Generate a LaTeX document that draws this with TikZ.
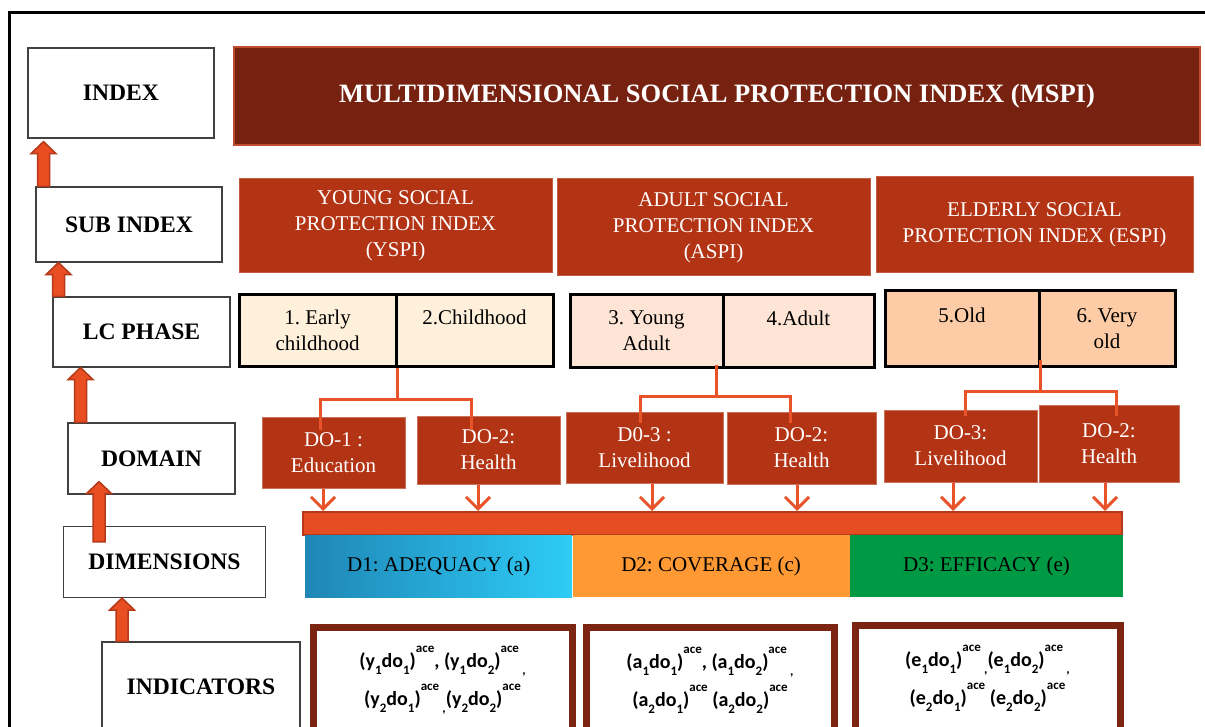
\documentclass[tikz,border=0pt]{standalone}
\usepackage{fontspec}
\setmainfont{Liberation Serif}
\newfontfamily\calibfont{Carlito}
\usetikzlibrary{calc,arrows.meta}
\frenchspacing

\definecolor{mspired}{HTML}{772211}
\definecolor{mspiedge}{HTML}{C04A30}
\definecolor{subred}{HTML}{B33415}
\definecolor{linkred}{HTML}{E8532A}
\definecolor{arrowred}{HTML}{E84E22}
\definecolor{arrowdark}{HTML}{B5391A}
\definecolor{barred}{HTML}{E64D22}
\definecolor{bardark}{HTML}{B53A1C}
\definecolor{creamy}{HTML}{FEF0DA}
\definecolor{peachy}{HTML}{FDE4D5}
\definecolor{tanny}{HTML}{FDCCA6}
\definecolor{dimblueA}{HTML}{1F86B6}
\definecolor{dimblueB}{HTML}{2ECCF6}
\definecolor{dimorange}{HTML}{FF9933}
\definecolor{dimgreen}{HTML}{009944}
\definecolor{indbrown}{HTML}{7B2412}

\newcommand{\indsub}[1]{\raisebox{-7pt}{\fontsize{13}{13}\selectfont #1}}
\newcommand{\indsup}{\raisebox{15pt}{\fontsize{13}{13}\selectfont ace}}

\newcommand{\liftarrow}[3]{%
    \path[blockarrow] let \p1=(#2), \p2=(#3) in
        ({#1-6},\y1) -- ({#1-6},{\y2-12}) -- ({#1-12.5},{\y2-12}) -- (#1,\y2)
        -- ({#1+12.5},{\y2-12}) -- ({#1+6},{\y2-12}) -- ({#1+6},\y1) -- cycle;
}

\begin{document}
\begin{tikzpicture}[x=1pt, y=-1pt,
    levelbox/.style={draw=black!75, line width=1.2pt, fill=white, inner sep=0pt, font=\fontsize{23.6}{26}\selectfont\bfseries},
    subbox/.style={fill=subred, draw=subred!80!white, line width=1pt, inner sep=0pt, text=white, align=center, font=\fontsize{21}{26}\selectfont},
    phasebox/.style={draw=black, line width=3pt, inner sep=0pt, align=center, font=\fontsize{21}{26}\selectfont},
    domainbox/.style={fill=subred, draw=subred!70!white, line width=1pt, inner sep=0pt, text=white, align=center, font=\fontsize{21}{26}\selectfont},
    dimbox/.style={inner sep=0pt, minimum height=62, anchor=west, font=\fontsize{21}{26}\selectfont},
    indbox/.style={draw=indbrown, line width=7pt, fill=white, inner sep=0pt, align=center, font=\calibfont\bfseries\fontsize{20}{38}\selectfont},
    link/.style={draw=linkred, line width=3pt},
    droparrow/.style={draw=linkred, line width=3pt, -{Straight Barb[length=12pt,width=24pt]}},
    blockarrow/.style={fill=arrowred, draw=arrowdark, line width=1.5pt}
]
    \useasboundingbox (0,0) rectangle (1205,727);
    \clip (0,0) rectangle (1205,727);

    \draw[line width=3pt] (9,760) -- (9,13) -- (1230,13);

    \node[levelbox, minimum width=186, minimum height=90] (index) at (121,93) {INDEX};
    \node[levelbox, minimum width=186, minimum height=75] (subidx) at (129,224.5) {SUB INDEX};
    \node[levelbox, minimum width=177, minimum height=70] (lcphase) at (141.5,332) {LC PHASE};
    \node[levelbox, minimum width=167, minimum height=71] (domain) at (151.5,458.5) {DOMAIN};
    \node[levelbox, minimum width=202, minimum height=71] (dims) at (164.5,562) {DIMENSIONS};
    \node[levelbox, minimum width=198, minimum height=90] (indic) at (201,687) {INDICATORS};

    \liftarrow{43.5}{subidx.north}{[yshift=-3pt]index.south}
    \liftarrow{58.5}{lcphase.north}{subidx.south}
    \liftarrow{80.5}{domain.north}{lcphase.south}
    \liftarrow{99}{[yshift=-16pt]dims.north}{[yshift=13pt]domain.south}
    \liftarrow{122}{indic.north}{dims.south}

    \node[fill=mspired, draw=mspiedge, line width=2pt, minimum width=966, minimum height=98, inner sep=0pt,
          text=white, font=\fontsize{26.5}{30}\selectfont\bfseries] (mspi) at (717,96)
          {MULTIDIMENSIONAL SOCIAL PROTECTION INDEX (MSPI)};

    \node[subbox, minimum width=313, minimum height=94] (yspi) at (395.5,226) {YOUNG SOCIAL\\PROTECTION INDEX\\(YSPI)};
    \node[subbox, minimum width=313, minimum height=97] (aspi) at (713.5,227.5) {ADULT SOCIAL\\PROTECTION INDEX\\(ASPI)};
    \node[subbox, minimum width=317, minimum height=96] (espi) at (1034.5,225) {ELDERLY SOCIAL\\PROTECTION INDEX (ESPI)};

    \node[phasebox, fill=creamy, minimum width=157, minimum height=71] (p1) at (317.5,330.5) {1. Early\\childhood};
    \node[phasebox, fill=creamy, minimum width=157, minimum height=71] (p2) at (474.5,330.5) {2.Childhood\\~};
    \node[phasebox, fill=peachy, minimum width=153, minimum height=72] (p3) at (646.5,331) {3. Young\\Adult};
    \node[phasebox, fill=peachy, minimum width=151, minimum height=72] (p4) at (798.5,331) {4.Adult\\~};
    \node[phasebox, fill=tanny, minimum width=154, minimum height=75] (p5) at (962,328.5) {5.Old\\~};
    \node[phasebox, fill=tanny, minimum width=136, minimum height=75] (p6) at (1107,328.5) {6. Very\\old};

    \node[domainbox, minimum width=143, minimum height=71] (do1) at (333.5,452.5) {DO-1 :\\Education};
    \node[domainbox, minimum width=143, minimum height=68] (do2) at (488.5,450) {DO-2:\\Health};
    \node[domainbox, minimum width=157, minimum height=71] (do3) at (644.5,447.5) {D0-3 :\\Livelihood};
    \node[domainbox, minimum width=149, minimum height=72] (do4) at (801.5,448) {DO-2:\\Health};
    \node[domainbox, minimum width=153, minimum height=72] (do5) at (960.5,446) {DO-3:\\Livelihood};
    \node[domainbox, minimum width=140, minimum height=77] (do6) at (1109,443.5) {DO-2:\\Health};

    \draw[link] (p1.south east) -- ++(0,32) coordinate (yfork);
    \draw[link] ([xshift=-13.5pt,yshift=-13pt]do1.north) |- (yfork) -| ([xshift=-17.5pt,yshift=-14pt]do2.north);
    \draw[link] ([xshift=-8pt,yshift=4pt]p3.south east) -- ++(0,32) coordinate (afork);
    \draw[link] ([xshift=-4.5pt,yshift=-11pt]do3.north) |- (afork) -| ([xshift=-11.5pt,yshift=-11pt]do4.north);
    \draw[link] ([yshift=8pt]p5.south east) -- ++(0,32) coordinate (ofork);
    \draw[link] ([xshift=4.5pt,yshift=-6pt]do5.north) |- (ofork) -| ([xshift=7pt,yshift=-11pt]do6.north);

    \node[fill=barred, draw=bardark, line width=2pt, minimum width=819, minimum height=23, inner sep=0pt] (bar) at (712.5,523.5) {};

    \foreach \dom/\ax in {do1/323, do2/478, do3/652, do4/797, do5/953, do6/1105}
    {
        \coordinate (t\dom) at (\ax,0);
        \draw[droparrow] (t\dom |- \dom.south) -- (t\dom |- bar.north);
    }

    \node[dimbox, minimum width=267, left color=dimblueA, right color=dimblueB] (d1) at (305,566) {D1: ADEQUACY (a)};
    \node[dimbox, minimum width=277, fill=dimorange] (d2) at (d1.east) {D2: COVERAGE (c)};
    \node[dimbox, minimum width=273, fill=dimgreen] (d3) at (d2.east) {D3: EFFICACY (e)};

    \node[indbox, minimum width=259, minimum height=106] (ind1) at (442.5,680)
        {(y\indsub{1}do\indsub{1})\indsup, (y\indsub{1}do\indsub{2})\indsup\,\indsub{,}\\
         (y\indsub{2}do\indsub{1})\indsup\,\indsub{,}(y\indsub{2}do\indsub{2})\indsup};
    \node[indbox, minimum width=248, minimum height=106] (ind2) at (710,680)
        {(a\indsub{1}do\indsub{1})\indsup, (a\indsub{1}do\indsub{2})\indsup\,\indsub{,}\\
         (a\indsub{2}do\indsub{1})\indsup\ (a\indsub{2}do\indsub{2})\indsup};
    \node[indbox, minimum width=265, minimum height=106] (ind3) at (987.5,678)
        {(e\indsub{1}do\indsub{1})\indsup\,\indsub{,}(e\indsub{1}do\indsub{2})\indsup\,\indsub{,}\\
         (e\indsub{2}do\indsub{1})\indsup\ (e\indsub{2}do\indsub{2})\indsup};
\end{tikzpicture}
\end{document}
